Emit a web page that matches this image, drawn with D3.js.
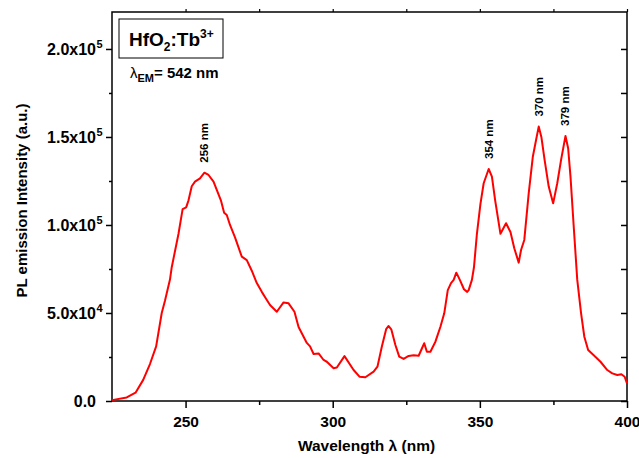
<!DOCTYPE html>
<html>
<head>
<meta charset="utf-8">
<script src="https://cdn.jsdelivr.net/npm/d3@7"></script>
<style>
  body { margin: 0; background: #fff; }
  svg text { font-family: "Liberation Sans", Arial, sans-serif; font-weight: bold; fill: #000; }
</style>
</head>
<body>
<svg id="chart" width="639" height="458"></svg>
<script>
const width = 639, height = 458,
    margin = { top: 12, right: 12, bottom: 57, left: 112 };

const innerWidth = width - margin.left - margin.right,
    innerHeight = height - margin.top - margin.bottom;

// spectrum
const wavelength = [225, 230, 233, 235.6, 237.9, 240, 241.9, 243, 244.7, 245.3, 247.6, 249, 250.2, 251, 252.1, 253.2, 254.9, 256.4, 257.8, 259.5, 260.6, 262, 263.1, 264, 265.1, 266.8, 269.1, 270.8, 272.5, 274.2, 275.9, 277.4, 278.7, 281, 283.3, 285, 287, 288.4, 291.2, 292.3, 293.5, 295.2, 296.9, 298, 300.3, 301.4, 304, 307.1, 309.1, 311.1, 313.9, 315.2, 316.7, 318.2, 319, 319.9, 321.3, 322.6, 324.1, 325.8, 327.5, 329.2, 331.1, 332, 333.2, 334.9, 336.6, 337.9, 339.1, 340.2, 341.1, 342, 343.2, 344.6, 345.7, 346.2, 347.3, 348, 349, 350.2, 351.3, 353, 354.1, 355.2, 357, 358.9, 360.4, 361.7, 363.2, 364, 365.1, 366.6, 368, 369.1, 370, 370.9, 372, 373.4, 374.9, 376.3, 377.6, 379.1, 380, 380.8, 381.9, 383.1, 384.4, 385.5, 386.8, 388.7, 391, 393.3, 395, 396.7, 398.1, 399.2, 400];
const intensity = [500, 2000, 4700, 12000, 21000, 31000, 50000, 57000, 69000, 76000, 95000, 109000, 110000, 114000, 122000, 124600, 126500, 129700, 128400, 124600, 120000, 114000, 107000, 105700, 100000, 93000, 82000, 80000, 74000, 67000, 62000, 58000, 54500, 50700, 56000, 55500, 50700, 42000, 33000, 31000, 26700, 27000, 23300, 22300, 18600, 19000, 25500, 17600, 13800, 13500, 16700, 19500, 31000, 41000, 42600, 40700, 31800, 25200, 23900, 25600, 26000, 25700, 32800, 28000, 28000, 33700, 42200, 49800, 63000, 67000, 68800, 72900, 68800, 63500, 62000, 63000, 68800, 76000, 95000, 112000, 123700, 131800, 127500, 114000, 95000, 101000, 96000, 86800, 78600, 85800, 91500, 118000, 138800, 148300, 155900, 150000, 137000, 121800, 112300, 123700, 137000, 150600, 143600, 127500, 99000, 68800, 49800, 36500, 29000, 26000, 22300, 17600, 15700, 14800, 15200, 13800, 10000];

// peak labels
const peakNames = ["256 nm", "354 nm", "370 nm", "379 nm"];
const peakX = [256.4, 353, 370, 379.1];
const peakY = [129700, 131800, 155900, 150600];

const xTicks = [250, 300, 350, 400];
const xMinor = [275, 325, 375];
const yTicks = [0, 50000, 100000, 150000, 200000];
const yTickBase = ["0.0", "5.0x10", "1.0x10", "1.5x10", "2.0x10"];
const yTickExp = ["", "4", "5", "5", "5"];
const yMinor = [25000, 75000, 125000, 175000];

const svg = d3.select("#chart")
  .append("g")
  .attr("transform", `translate(${margin.left}, ${margin.top})`);

const xScale = d3.scaleLinear().domain([225, 400]).range([0, innerWidth]);
const yScale = d3.scaleLinear().domain([0, 221000]).range([innerHeight, 0]);

// frame
svg.append("rect")
  .attr("width", innerWidth)
  .attr("height", innerHeight)
  .attr("fill", "none")
  .attr("stroke", "#000")
  .attr("stroke-width", 1.5);

// bottom axis
const xAxis = svg.append("g")
  .attr("transform", `translate(0, ${innerHeight})`)
  .call(d3.axisBottom(xScale).tickValues(xTicks).tickSize(7).tickFormat(d3.format("d")));
xAxis.select(".domain").remove();
xAxis.selectAll("line").attr("stroke-width", 1.5);
xAxis.selectAll("text").style("font-size", "15.5px").attr("dy", "1.05em");

svg.append("g")
  .attr("transform", `translate(0, ${innerHeight})`)
  .call(d3.axisBottom(xScale).tickValues(xMinor).tickSize(4).tickFormat(""))
  .call(g => g.select(".domain").remove())
  .selectAll("line").attr("stroke-width", 1.5);

// top ticks
svg.append("g")
  .call(d3.axisTop(xScale).tickValues(xTicks.concat(xMinor)).tickSize(3).tickFormat(""))
  .call(g => g.select(".domain").remove())
  .selectAll("line").attr("stroke-width", 1.2);

// left axis
const yAxis = svg.append("g")
  .call(d3.axisLeft(yScale).tickValues(yTicks).tickSize(6).tickFormat(""));
yAxis.select(".domain").remove();
yAxis.selectAll("line").attr("stroke-width", 1.5);

svg.append("g")
  .call(d3.axisLeft(yScale).tickValues(yMinor).tickSize(3).tickFormat(""))
  .call(g => g.select(".domain").remove())
  .selectAll("line").attr("stroke-width", 1.5);

// right axis, ticks inward
svg.append("g")
  .attr("transform", `translate(${innerWidth}, 0)`)
  .call(d3.axisLeft(yScale).tickValues(yTicks.concat(yMinor)).tickSize(6).tickFormat(""))
  .call(g => g.select(".domain").remove())
  .selectAll("line").attr("stroke-width", 1.5);

// y tick labels, exponent hangs right of the mantissa
yTicks.forEach((v, i) => {
  svg.append("text")
    .attr("x", -16)
    .attr("y", yScale(v) + 6)
    .attr("text-anchor", "end")
    .style("font-size", "16px")
    .text(yTickBase[i]);
  if (yTickExp[i]) {
    svg.append("text")
      .attr("x", -15.5)
      .attr("y", yScale(v) - 1)
      .style("font-size", "11px")
      .text(yTickExp[i]);
  }
});

// spectrum
const line = d3.line()
  .x((d, i) => xScale(wavelength[i]))
  .y(d => yScale(d));

svg.append("path")
  .datum(intensity)
  .attr("d", line)
  .attr("fill", "none")
  .attr("stroke", "#ff0000")
  .attr("stroke-width", 2)
  .attr("stroke-linejoin", "round");

// peak annotations
peakNames.forEach((name, i) => {
  const px = xScale(peakX[i]), py = yScale(peakY[i]) - 10;
  svg.append("text")
    .attr("transform", `translate(${px + 4}, ${py}) rotate(-90)`)
    .attr("text-anchor", "start")
    .style("font-size", "11.5px")
    .text(name);
});

// sample box
svg.append("rect")
  .attr("x", 7)
  .attr("y", 7)
  .attr("width", 104)
  .attr("height", 39)
  .attr("fill", "#fff")
  .attr("stroke", "#000")
  .attr("stroke-width", 1);

const title = svg.append("text")
  .attr("x", 17)
  .attr("y", 34)
  .style("font-size", "19px");
title.append("tspan").text("HfO");
title.append("tspan").attr("dy", 5).style("font-size", "12px").text("2");
title.append("tspan").attr("dy", -5).text(":Tb");
title.append("tspan").attr("dy", -8).style("font-size", "12px").text("3+");

const em = svg.append("text")
  .attr("x", 18)
  .attr("y", 66)
  .style("font-size", "15px");
em.append("tspan").style("font-weight", "normal").text("λ");
em.append("tspan").attr("dy", 4).style("font-size", "11px").text("EM");
em.append("tspan").attr("dy", -4).text("= 542 nm");

// axis titles
svg.append("text")
  .attr("x", innerWidth / 2 - 3)
  .attr("y", innerHeight + 50)
  .attr("text-anchor", "middle")
  .style("font-size", "15.5px")
  .text("Wavelength λ (nm)");

svg.append("text")
  .attr("transform", "rotate(-90)")
  .attr("x", -innerHeight / 2 + 6)
  .attr("y", -85)
  .attr("text-anchor", "middle")
  .style("font-size", "15px")
  .text("PL emission Intensity (a.u.)");
</script>
</body>
</html>
